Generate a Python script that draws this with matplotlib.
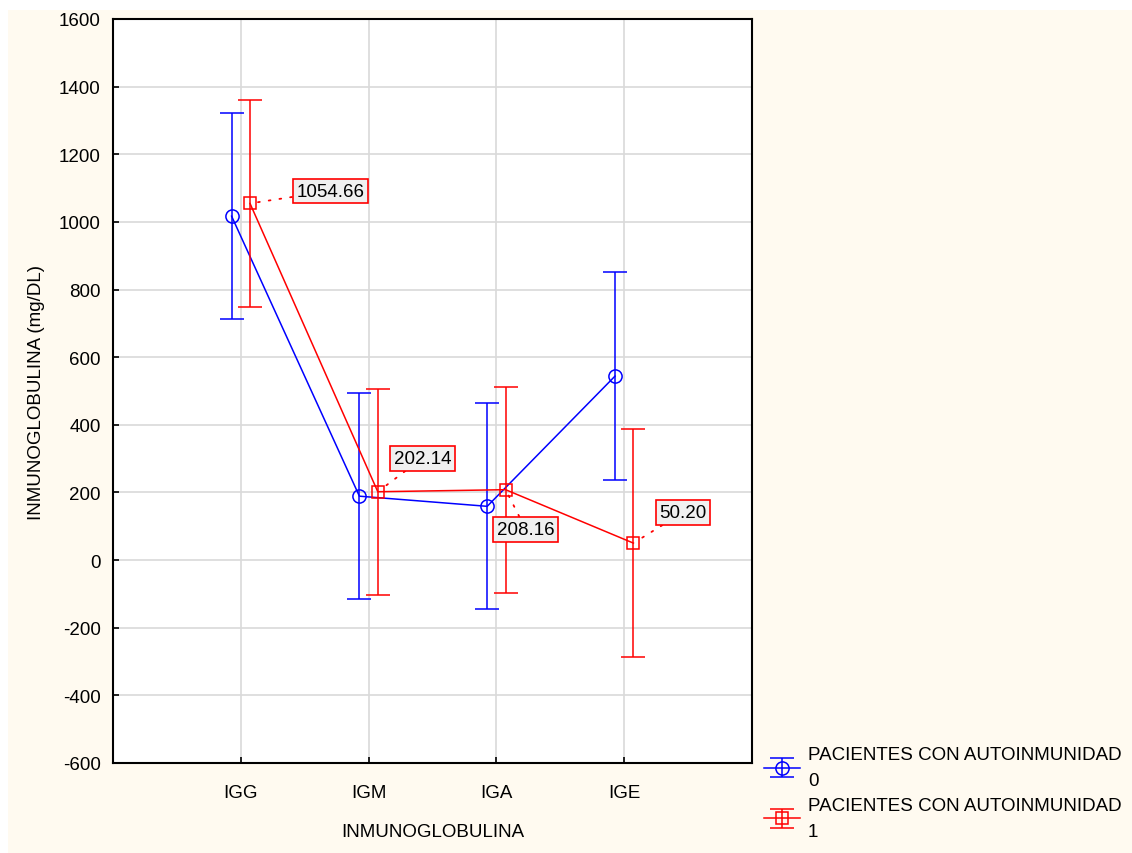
import numpy as np
import matplotlib
matplotlib.use("Agg")
import matplotlib.pyplot as plt
from matplotlib.patches import Rectangle

plt.rcParams['font.family'] = ['Liberation Sans', 'DejaVu Sans']
plt.rcParams['axes.unicode_minus'] = False

# data
categories = ['IGG', 'IGM', 'IGA', 'IGE']
mean_0 = [1017, 189, 159, 544]
err_0 = [305, 305, 305, 307]
mean_1 = [1054.66, 202.14, 208.16, 50.20]
err_1 = [305, 305, 305, 336]
label_0 = 'PACIENTES CON AUTOINMUNIDAD\n0'
label_1 = 'PACIENTES CON AUTOINMUNIDAD\n1'
# label box positions (data coords) for group 1 values
label_pos = [(1.70, 1091), (2.42, 301), (3.23, 91), (4.46, 141)]

fs = 13.5
blue = '#0000FF'
red = '#FF0000'

fig = plt.figure(figsize=(11.32, 8.54), dpi=100)
fig.patch.set_facecolor('white')
fig.patches.append(Rectangle((8/1132, 0), 1, 1 - 11/854, transform=fig.transFigure,
                             facecolor='#FFFAF0', edgecolor='none', zorder=-10))

ax = fig.add_axes([113/1132, 1 - 764/854, 639/1132, 744/854])
ax.set_facecolor('white')

x = np.arange(1, len(categories) + 1)
off = 0.072

h0 = ax.errorbar(x - off, mean_0, yerr=err_0, color=blue, lw=1.1, capsize=8.5, capthick=1.1,
                 marker='o', ms=9.5, mfc='none', mec=blue, mew=1.1, label=label_0, zorder=3)
h1 = ax.errorbar(x + off, mean_1, yerr=err_1, color=red, lw=1.1, capsize=8.5, capthick=1.1,
                 marker='s', ms=9, mfc='none', mec=red, mew=1.1, label=label_1, zorder=4)

for xi, yi, (lx, ly) in zip(x + off, mean_1, label_pos):
    ax.annotate('%.2f' % yi, xy=(xi, yi), xytext=(lx, ly), fontsize=fs,
                ha='center', va='center',
                bbox=dict(boxstyle='square,pad=0.2', fc='#F0F0F0', ec=red, lw=1.2),
                arrowprops=dict(arrowstyle='-', color=red, lw=1.3, ls=(0, (1, 5)),
                                shrinkA=0, shrinkB=2), zorder=5)

ax.set_xlim(0, 5)
ax.set_ylim(-600, 1600)
ax.set_xticks(x)
ax.set_xticklabels(categories)
ax.set_yticks(np.arange(-600, 1601, 200))
ax.grid(True, color='#D9D9D9', lw=1.2)
ax.set_axisbelow(True)
ax.tick_params(direction='in', length=4, width=1.2, labelsize=fs)
ax.tick_params(axis='x', pad=15)
ax.tick_params(axis='y', pad=9)
for s in ax.spines.values():
    s.set_linewidth(1.5)
    s.set_color('black')

ax.set_xlabel('INMUNOGLOBULINA', fontsize=fs, labelpad=16)
ax.set_ylabel('INMUNOGLOBULINA (mg/DL)', fontsize=fs, labelpad=10)

leg = fig.legend(handles=[h0, h1], loc='upper left', bbox_to_anchor=(764/1132, 1 - 747/854),
                 frameon=False, fontsize=fs, handlelength=1.9, handletextpad=0.45,
                 labelspacing=0.4, borderaxespad=0, borderpad=0)
for t in leg.get_texts():
    t.set_linespacing(1.72)

fig.savefig('out.png', dpi=100, facecolor=fig.get_facecolor())
